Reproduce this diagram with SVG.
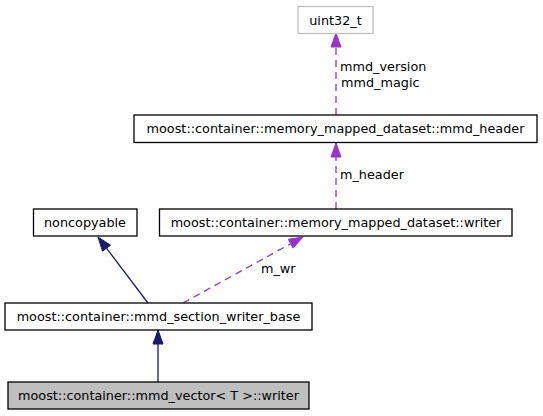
<svg xmlns="http://www.w3.org/2000/svg" width="543" height="416" viewBox="0 0 543 416">
<style>
text{font-family:"DejaVu Sans","Liberation Sans",sans-serif;font-size:12.8px;fill:#000}
.n{text-anchor:middle}
.box{fill:#fff;stroke:#000;stroke-width:1.3}
.grey{fill:#fff;stroke:#bfbfbf;stroke-width:1.3}
.cur{fill:#bfbfbf;stroke:#000;stroke-width:1.3}
.inh{stroke:#191970;stroke-width:1.3;fill:none}
.inhh{fill:#191970;stroke:#191970}
.use{stroke:#9a32cd;stroke-width:1.3;fill:none;stroke-dasharray:7,5}
.useh{fill:#9a32cd;stroke:#9a32cd}
</style>
<rect width="543" height="416" fill="#fff"/>
<g id="connectors">
<path class="use" d="M336,115 L336,47"/>
<polygon class="useh" points="336,33 341,47 331,47"/>
<path class="use" d="M336,209 L336,157"/>
<polygon class="useh" points="336,143 341,157 331,157"/>
<path class="use" d="M183,303 L290.7,243.7"/>
<polygon class="useh" points="303,237 293.1,248.1 288.3,239.3"/>
<path class="inh" d="M148,303 L106.5,248.2"/>
<polygon class="inhh" points="98,237 110.5,245.2 102.5,251.2"/>
<path class="inh" d="M158,382 L158,344"/>
<polygon class="inhh" points="158,330 163,344 153,344"/>
<text x="340" y="71">mmd_version</text>
<text x="341" y="87">mmd_magic</text>
<text x="340" y="179">m_header</text>
<text x="261" y="273">m_wr</text>
</g>
<g id="uint32_t">
<rect class="grey" x="298" y="6.5" width="75" height="27"/>
<text class="n" x="335.5" y="24.5">uint32_t</text>
</g>
<g id="mmd_header">
<rect class="box" x="134" y="115" width="403" height="27.5"/>
<text class="n" x="335.5" y="133">moost::container::memory_mapped_dataset::mmd_header</text>
</g>
<g id="noncopyable">
<rect class="box" x="33.5" y="209" width="103.5" height="27"/>
<text class="n" x="85" y="227">noncopyable</text>
</g>
<g id="writer">
<rect class="box" x="159.5" y="209" width="352.5" height="27"/>
<text class="n" x="336" y="227">moost::container::memory_mapped_dataset::writer</text>
</g>
<g id="section_writer_base">
<rect class="box" x="5" y="303" width="307" height="27"/>
<text class="n" x="158.5" y="321">moost::container::mmd_section_writer_base</text>
</g>
<g id="mmd_vector_writer">
<rect class="cur" x="8" y="382" width="301" height="27"/>
<text class="n" x="158.5" y="400">moost::container::mmd_vector&lt; T &gt;::writer</text>
</g>
</svg>
